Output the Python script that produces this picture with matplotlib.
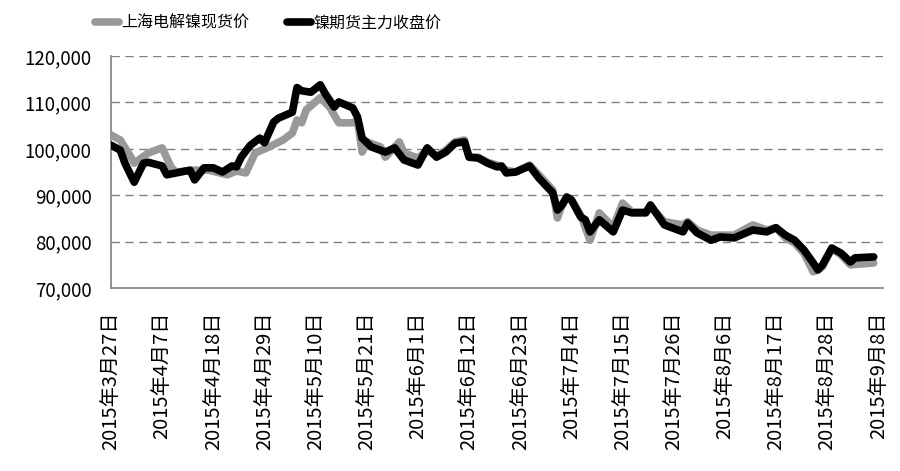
import matplotlib
matplotlib.use("Agg")
import matplotlib.pyplot as plt
import pandas as pd

plt.rcParams['font.family'] = ['Noto Sans CJK SC', 'DejaVu Sans']

# spot price (gray)
spot_dates = ["2015-03-27", "2015-03-29", "2015-03-31", "2015-04-01", "2015-04-04",
              "2015-04-07", "2015-04-09", "2015-04-10", "2015-04-14", "2015-04-17",
              "2015-04-21", "2015-04-23", "2015-04-25", "2015-04-27", "2015-04-30",
              "2015-05-03", "2015-05-05", "2015-05-06", "2015-05-07", "2015-05-08",
              "2015-05-11", "2015-05-13", "2015-05-15", "2015-05-18", "2015-05-19",
              "2015-05-20", "2015-05-21", "2015-05-24", "2015-05-25", "2015-05-28",
              "2015-05-29", "2015-06-01", "2015-06-03", "2015-06-05", "2015-06-07",
              "2015-06-09", "2015-06-11", "2015-06-12", "2015-06-14", "2015-06-16",
              "2015-06-18", "2015-06-20", "2015-06-22", "2015-06-25", "2015-06-27",
              "2015-06-30", "2015-07-01", "2015-07-02", "2015-07-03", "2015-07-04",
              "2015-07-06", "2015-07-08", "2015-07-10", "2015-07-13", "2015-07-15",
              "2015-07-17", "2015-07-20", "2015-07-21", "2015-07-24", "2015-07-28",
              "2015-07-29", "2015-07-31", "2015-08-03", "2015-08-05", "2015-08-08",
              "2015-08-12", "2015-08-15", "2015-08-17", "2015-08-19", "2015-08-21",
              "2015-08-23", "2015-08-25", "2015-08-26", "2015-08-27", "2015-08-29",
              "2015-08-31", "2015-09-02", "2015-09-07"]
spot_price = [103000, 101900, 98700, 96900, 99100,
              100200, 95900, 95000, 95400, 95400,
              94400, 95200, 94800, 99100, 100400,
              101900, 103400, 106200, 105600, 108400,
              111000, 109000, 105600, 105600, 106200,
              99300, 101500, 100400, 98200, 101500,
              99100, 98000, 99700, 98500, 99700,
              101500, 101900, 98200, 98200, 97100,
              96500, 95400, 95000, 96500, 94400,
              91100, 85100, 87900, 89600, 89000,
              85700, 80300, 86200, 83100, 88300,
              86400, 86400, 87500, 84300, 83600,
              84300, 82500, 81400, 81400, 81400,
              83600, 82500, 83000, 80800, 79700,
              77500, 73500, 73900, 74600, 78600,
              77100, 75000, 75400]

# futures main contract close (black)
fut_dates = ["2015-03-27", "2015-03-29", "2015-03-30", "2015-04-01", "2015-04-03",
             "2015-04-04", "2015-04-07", "2015-04-08", "2015-04-10", "2015-04-13",
             "2015-04-14", "2015-04-16", "2015-04-18", "2015-04-20", "2015-04-22",
             "2015-04-23", "2015-04-24", "2015-04-26", "2015-04-28", "2015-04-29",
             "2015-05-01", "2015-05-02", "2015-05-05", "2015-05-06", "2015-05-07",
             "2015-05-09", "2015-05-11", "2015-05-12", "2015-05-14", "2015-05-15",
             "2015-05-18", "2015-05-19", "2015-05-20", "2015-05-22", "2015-05-25",
             "2015-05-27", "2015-05-29", "2015-06-01", "2015-06-03", "2015-06-05",
             "2015-06-07", "2015-06-09", "2015-06-11", "2015-06-12", "2015-06-14",
             "2015-06-16", "2015-06-18", "2015-06-19", "2015-06-20", "2015-06-22",
             "2015-06-25", "2015-06-27", "2015-06-30", "2015-07-01", "2015-07-02",
             "2015-07-03", "2015-07-04", "2015-07-06", "2015-07-07", "2015-07-08",
             "2015-07-10", "2015-07-13", "2015-07-15", "2015-07-17", "2015-07-20",
             "2015-07-21", "2015-07-24", "2015-07-28", "2015-07-29", "2015-07-31",
             "2015-08-03", "2015-08-05", "2015-08-08", "2015-08-12", "2015-08-15",
             "2015-08-17", "2015-08-19", "2015-08-21", "2015-08-23", "2015-08-25",
             "2015-08-26", "2015-08-27", "2015-08-29", "2015-08-31", "2015-09-02",
             "2015-09-03", "2015-09-07"]
fut_price = [100800, 99700, 96900, 92800, 96900,
             97100, 96300, 94400, 94800, 95400,
             93300, 95900, 95900, 95000, 96300,
             96100, 98200, 100800, 102300, 101300,
             105800, 106600, 107900, 113200, 112500,
             112200, 113800, 112000, 109000, 110100,
             108800, 106900, 102300, 100400, 99300,
             100200, 97600, 96500, 100200, 98200,
             99300, 101200, 101500, 98200, 98000,
             96900, 96100, 96300, 94800, 95000,
             96300, 93700, 90500, 86800, 87900,
             89600, 89000, 85300, 84700, 82100,
             84700, 82100, 86800, 86200, 86200,
             87900, 83600, 82100, 84000, 81900,
             80300, 81000, 80800, 82500, 82100,
             83000, 81400, 80300, 78200, 75400,
             73900, 75000, 78600, 77500, 75600,
             76500, 76700]

tick_dates = pd.date_range("2015-03-27", "2015-09-08", freq="11D")
tick_labels = ["%d年%d月%d日" % (d.year, d.month, d.day) for d in tick_dates]
y_ticks = [70000, 80000, 90000, 100000, 110000, 120000]

spot_x = pd.to_datetime(spot_dates)
fut_x = pd.to_datetime(fut_dates)

fig = plt.figure(figsize=(9, 4.71), dpi=100)
ax = fig.add_axes([0.1233, 0.3885, 0.8578, 0.4926])

ax.plot(spot_x, spot_price, color="#999999", lw=5.5, solid_joinstyle="round",
        solid_capstyle="round", label="上海电解镍现货价", zorder=3)
ax.plot(fut_x, fut_price, color="#000000", lw=5.5, solid_joinstyle="round",
        solid_capstyle="round", label="镍期货主力收盘价", zorder=4)

ax.set_xlim(pd.Timestamp("2015-03-27"), pd.Timestamp("2015-09-09"))
ax.set_ylim(70000, 120000)
ax.set_yticks(y_ticks)
ax.set_yticklabels(["{:,}".format(v) for v in y_ticks], fontsize=13.5)
ax.set_xticks(tick_dates)
ax.set_xticklabels(tick_labels, rotation=90, fontsize=14.5)
ax.tick_params(axis="both", length=0)
ax.tick_params(axis="y", pad=14)
ax.tick_params(axis="x", pad=17)

for v in y_ticks[1:]:
    ax.axhline(v, color="#808080", lw=1, ls=(0, (6, 4)), zorder=1)

for s in ["top", "right"]:
    ax.spines[s].set_visible(False)
for s in ["left", "bottom"]:
    ax.spines[s].set_color("#808080")
    ax.spines[s].set_linewidth(1.2)

fig.legend(loc="upper center", bbox_to_anchor=(0.298, 1.0), ncol=2, frameon=False,
           fontsize=11.5, handlelength=1.5, handletextpad=0.15, columnspacing=2.4)

fig.savefig("out.png", dpi=100)
